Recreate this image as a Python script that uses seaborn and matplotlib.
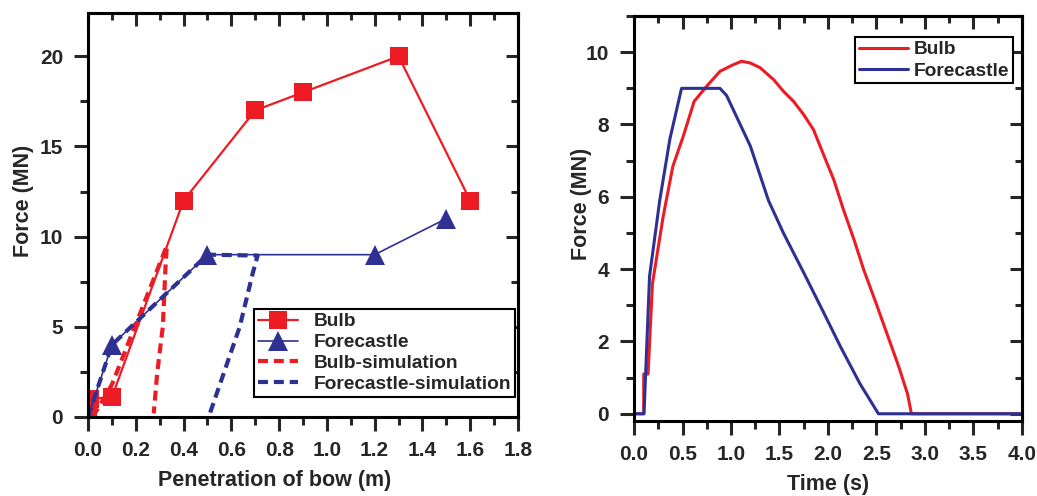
import numpy as np
import matplotlib
matplotlib.use("Agg")
import matplotlib.pyplot as plt
import seaborn as sns
from matplotlib.ticker import MultipleLocator

# left panel: force vs penetration
bulb_x = [0.0, 0.01, 0.1, 0.4, 0.7, 0.9, 1.3, 1.6]
bulb_y = [0.0, 1.0, 1.1, 12, 17, 18, 20, 12]
fore_x = [0.0, 0.1, 0.5, 1.2, 1.5]
fore_y = [0.0, 4.0, 9.0, 9.0, 11.0]
bulb_sim_x = [0.02, 0.1, 0.33, 0.325, 0.313, 0.29, 0.275]
bulb_sim_y = [0.0, 1.8, 9.5, 8.5, 5.0, 2.5, 0.2]
fore_sim_x = [0.0, 0.1, 0.5, 0.71, 0.69, 0.635, 0.57, 0.505]
fore_sim_y = [0.0, 4.0, 9.0, 8.95, 8.0, 5.0, 2.5, 0.0]

# right panel: force vs time
t_bulb = [0.0, 0.1, 0.1, 0.145, 0.19, 0.3, 0.4, 0.507, 0.62, 0.75, 0.886, 1.02,
          1.11, 1.2, 1.3, 1.44, 1.54, 1.645, 1.75, 1.85, 1.955, 2.06, 2.16,
          2.27, 2.37, 2.49, 2.61, 2.73, 2.82, 2.86, 4.0]
f_bulb = [0.0, 0.0, 1.1, 1.1, 3.6, 5.45, 6.84, 7.67, 8.64, 9.06, 9.47, 9.65,
          9.75, 9.7, 9.57, 9.24, 8.92, 8.64, 8.27, 7.86, 7.16, 6.47, 5.64,
          4.8, 3.97, 3.1, 2.2, 1.3, 0.55, 0.0, 0.0]
t_fore = [0.0, 0.103, 0.16, 0.265, 0.37, 0.49, 0.886, 0.955, 1.06, 1.2,
          1.386, 1.54, 1.75, 1.955, 2.13, 2.33, 2.52, 4.0]
f_fore = [0.0, 0.0, 3.8, 5.9, 7.6, 9.0, 9.0, 8.8, 8.2, 7.4,
          5.9, 5.0, 3.9, 2.8, 1.85, 0.83, 0.0, 0.0]

red = "#ED1C24"
blue = "#2E3192"

sns.set_style("ticks")
plt.rcParams["font.family"] = ["Liberation Sans", "DejaVu Sans"]
plt.rcParams["font.weight"] = "bold"
plt.rcParams["axes.labelweight"] = "bold"

fig = plt.figure(figsize=(10.37, 4.96), dpi=100)
ax1 = fig.add_axes([0.0849, 0.1593, 0.4146, 0.8145])
ax2 = fig.add_axes([0.6114, 0.1512, 0.3741, 0.8165])

sns.lineplot(x=bulb_x, y=bulb_y, ax=ax1, sort=False, estimator=None, color=red,
             lw=1.6, marker="s", markersize=13, markeredgewidth=0, label="Bulb")
sns.lineplot(x=fore_x, y=fore_y, ax=ax1, sort=False, estimator=None, color=blue,
             lw=1.2, marker="^", markersize=14, markeredgewidth=0, label="Forecastle")
sns.lineplot(x=bulb_sim_x, y=bulb_sim_y, ax=ax1, sort=False, estimator=None, color=red,
             lw=3, dashes=(2.4, 1.4), label="Bulb-simulation")
sns.lineplot(x=fore_sim_x, y=fore_sim_y, ax=ax1, sort=False, estimator=None, color=blue,
             lw=3, dashes=(2.4, 1.4), label="Forecastle-simulation")

sns.lineplot(x=t_bulb, y=f_bulb, ax=ax2, sort=False, estimator=None, color=red,
             lw=2.2, label="Bulb")
sns.lineplot(x=t_fore, y=f_fore, ax=ax2, sort=False, estimator=None, color=blue,
             lw=2.2, label="Forecastle")

ax1.xaxis.set_major_locator(MultipleLocator(0.2))
ax1.xaxis.set_minor_locator(MultipleLocator(0.1))
ax1.yaxis.set_major_locator(MultipleLocator(5))
ax1.yaxis.set_minor_locator(MultipleLocator(2.5))
ax1.set_xlabel("Penetration of bow (m)", fontsize=15.5)
ax1.set_ylabel("Force (MN)", fontsize=15.5)

ax2.xaxis.set_major_locator(MultipleLocator(0.5))
ax2.xaxis.set_minor_locator(MultipleLocator(0.25))
ax2.yaxis.set_major_locator(MultipleLocator(2))
ax2.yaxis.set_minor_locator(MultipleLocator(1))
ax2.set_xlabel("Time (s)", fontsize=15.5)
ax2.set_ylabel("Force (MN)", fontsize=15.5)

for ax in (ax1, ax2):
    for s in ax.spines.values():
        s.set_linewidth(2.2)
        s.set_color("black")
    ax.tick_params(which="major", direction="out", length=10, width=2.2, labelsize=15, pad=7)
    ax.tick_params(which="minor", direction="out", length=5.5, width=2.2)
    ax.tick_params(axis="y", which="major", pad=8)
    for lab in ax.get_xticklabels() + ax.get_yticklabels():
        lab.set_fontweight("bold")
    # inward mirror ticks on top and right
    top = ax.secondary_xaxis("top")
    top.set_xticks(ax.get_xticks())
    top.xaxis.set_minor_locator(ax.xaxis.get_minor_locator())
    top.tick_params(which="major", direction="in", length=9, width=2.2, labeltop=False)
    top.tick_params(which="minor", direction="in", length=5, width=2.2)
    top.spines["top"].set_linewidth(2.2)
    right = ax.secondary_yaxis("right")
    right.set_yticks(ax.get_yticks())
    right.yaxis.set_minor_locator(ax.yaxis.get_minor_locator())
    right.tick_params(which="major", direction="in", length=9, width=2.2, labelright=False)
    right.tick_params(which="minor", direction="in", length=5, width=2.2)
    right.spines["right"].set_linewidth(2.2)

ax1.set_xlim(0, 1.8)
ax1.set_ylim(0, 22.4)
ax2.set_xlim(0, 4.0)
ax2.set_ylim(-0.2, 11)

ax1.xaxis.set_label_coords(0.433, -0.13)
ax1.yaxis.set_label_coords(-0.126, 0.535)
ax2.xaxis.set_label_coords(0.5, -0.13)
ax2.yaxis.set_label_coords(-0.108, 0.536)

leg1 = ax1.legend(loc="lower right", bbox_to_anchor=(0.993, 0.05), borderaxespad=0,
                  fancybox=False, edgecolor="black", framealpha=1,
                  handlelength=2.1, labelspacing=0.18, handletextpad=0.8,
                  borderpad=0.2, prop={"weight": "bold", "size": 13.8})
leg1.get_frame().set_linewidth(1.5)
leg2 = ax2.legend(loc="upper right", bbox_to_anchor=(0.977, 0.948), borderaxespad=0,
                  fancybox=False, edgecolor="black", framealpha=1,
                  handlelength=2.55, labelspacing=0.2, handletextpad=0.3,
                  borderpad=0.2, prop={"weight": "bold", "size": 13.8})
leg2.get_frame().set_linewidth(1.5)

fig.savefig("out.png", dpi=100)
